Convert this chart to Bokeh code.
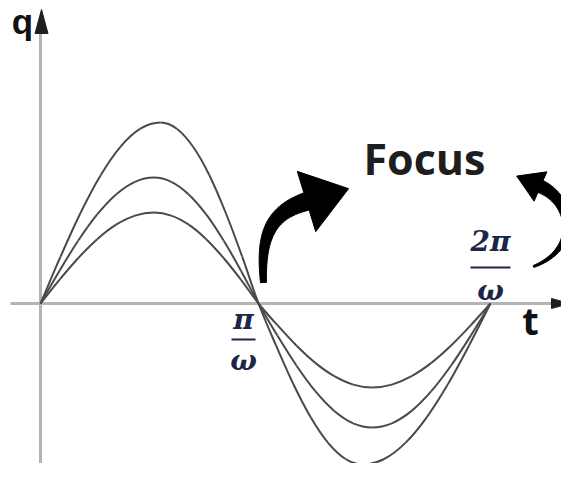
import numpy as np
from bokeh.plotting import figure
from bokeh.models import Range1d
from bokeh.core.properties import value
from bokeh.embed import file_html
from bokeh.resources import INLINE

# ---- data (t in arbitrary time units, q in arbitrary charge units) ----
T_A = [0, 20.0, 40.0, 60.0, 79.9, 99.9, 119.9, 136.3, 152.6, 169.0, 185.3, 201.7, 218,
       235.4, 252.8, 270.2, 287.6, 305.0, 322.4, 343.7, 364.9, 386.2, 407.5, 428.7, 450]
Q_A = [0, 46.8, 90.5, 128.0, 156.7, 174.8, 181, 174.8, 156.7, 128.0, 90.5, 46.8, 0,
       -41.7, -80.5, -113.8, -139.4, -155.5, -161, -155.5, -139.4, -113.8, -80.5, -41.7, 0]
T_BC = [0, 18.9, 37.8, 56.7, 75.6, 94.5, 113.4, 130.8, 148.2, 165.7, 183.1, 200.6, 218,
        236.9, 255.9, 274.8, 293.8, 312.7, 331.7, 351.4, 371.1, 390.8, 410.6, 430.3, 450]
Q_B = [0, 32.6, 63.0, 89.1, 109.1, 121.7, 126, 121.7, 109.1, 89.1, 63.0, 32.6, 0,
       -32.1, -62.0, -87.7, -107.4, -119.8, -124, -119.8, -107.4, -87.7, -62.0, -32.1, 0]
Q_C = [0, 23.6, 45.5, 64.3, 78.8, 87.9, 91, 87.9, 78.8, 64.3, 45.5, 23.6, 0,
       -21.7, -42.0, -59.4, -72.7, -81.1, -84, -81.1, -72.7, -59.4, -42.0, -21.7, 0]
TICK_T = [218, 450]
TICK_NUM = ["π", "2π"]
TICK_DEN = ["ω", "ω"]
AXIS_LABELS = ["q", "t"]
NOTE = "Focus"

# page-pixel -> data helper for decorations (origin of axes at px 40, 303)
OX, OY = 40, 303
W, H = 561, 463


def D(px, py):
    return px - OX, OY - py


p = figure(width=W, height=H,
           x_range=Range1d(0 - OX, W - OX), y_range=Range1d(OY - H, OY),
           x_axis_type=None, y_axis_type=None, toolbar_location=None,
           output_backend="svg", min_border=0, outline_line_color=None,
           background_fill_color="white", border_fill_color="white")

AXIS_COL = "#b4b4b4"
HEAD_COL = "#1e1e1e"

# axes
vx0, vy0 = D(40, 479)
vx1, vy1 = D(40, 30)
p.segment(x0=[vx0], y0=[vy0], x1=[vx1], y1=[vy1], line_color=AXIS_COL, line_width=3)
hx0, hy0 = D(10, 303)
hx1, hy1 = D(553, 303)
p.segment(x0=[hx0], y0=[hy0], x1=[hx1], y1=[hy1], line_color=AXIS_COL, line_width=3)


def head(tip, base, half_w):
    tx, ty = tip
    bx, by = base
    dx, dy = tx - bx, ty - by
    L = np.hypot(dx, dy)
    nx, ny = -dy / L, dx / L
    xs = [tx, bx + nx * half_w, bx - nx * half_w]
    ys = [ty, by + ny * half_w, by - ny * half_w]
    return xs, ys


xs, ys = head(D(41, 9), D(41, 33), 6.5)
p.patch(xs, ys, fill_color=HEAD_COL, line_color=HEAD_COL, line_width=1)
xs, ys = head(D(569, 303), D(551, 303), 5)
p.patch(xs, ys, fill_color=HEAD_COL, line_color=HEAD_COL, line_width=1)


# curves: smooth Bezier segments through the read points (Catmull-Rom controls)
def smooth_segments(T, Q):
    P = np.column_stack([T, Q]).astype(float)
    ext = np.vstack([2 * P[0] - P[1], P, 2 * P[-1] - P[-2]])
    x0, y0, x1, y1, cx0, cy0, cx1, cy1 = ([] for _ in range(8))
    for i in range(1, len(ext) - 2):
        a, b, c, d = ext[i - 1], ext[i], ext[i + 1], ext[i + 2]
        c0 = b + (c - a) / 6.0
        c1 = c - (d - b) / 6.0
        x0.append(b[0]); y0.append(b[1]); x1.append(c[0]); y1.append(c[1])
        cx0.append(c0[0]); cy0.append(c0[1]); cx1.append(c1[0]); cy1.append(c1[1])
    return dict(x0=x0, y0=y0, x1=x1, y1=y1, cx0=cx0, cy0=cy0, cx1=cx1, cy1=cy1)


CURVE_COL = "#4a4a4a"
for T, Q in ((T_A, Q_A), (T_BC, Q_B), (T_BC, Q_C)):
    p.bezier(source=smooth_segments(T, Q), x0="x0", y0="y0", x1="x1", y1="y1",
             cx0="cx0", cy0="cy0", cx1="cx1", cy1="cy1",
             line_color=CURVE_COL, line_width=2)

# axis labels
lx, ly = D(22, 21)
p.text(x=[lx], y=[ly], text=[AXIS_LABELS[0]], text_font=value("Liberation Sans"),
       text_font_style="bold", text_font_size="35px", text_color="#111111",
       text_align="center", text_baseline="alphabetic")
lx, ly = D(530, 319)
p.text(x=[lx], y=[ly], text=[AXIS_LABELS[1]], text_font=value("Open Sans"),
       text_font_style="bold", text_font_size="38px", text_color="#111111",
       text_align="center", text_baseline="alphabetic")

# fraction tick labels
FRAC_COL = "#1c2648"
num_y = [D(0, 319)[1], D(0, 241)[1]]
bar_y = [D(0, 339)[1], D(0, 267)[1]]
den_y = [D(0, 360)[1], D(0, 290)[1]]
cx = [D(243, 0)[0], D(490, 0)[0]]
half = [12, 20]
p.text(x=cx, y=num_y, text=TICK_NUM, text_font=value("DejaVu Serif"),
       text_font_style="bold italic", text_font_size="28px", text_color=FRAC_COL,
       text_align="center", text_baseline="alphabetic")
p.text(x=cx, y=den_y, text=TICK_DEN, text_font=value("DejaVu Serif"),
       text_font_style="bold italic", text_font_size="28px", text_color=FRAC_COL,
       text_align="center", text_baseline="alphabetic")
p.segment(x0=[c - h for c, h in zip(cx, half)], y0=bar_y,
          x1=[c + h for c, h in zip(cx, half)], y1=bar_y,
          line_color=FRAC_COL, line_width=2)

# "Focus" note
fx, fy = D(363, 158)
p.text(x=[fx], y=[fy], text=[NOTE], text_font=value("Open Sans"),
       text_font_style="bold", text_font_size="43px", text_color="#1e1e1e",
       text_align="left", text_baseline="alphabetic")


# curved decorative arrows
def curved_arrow(P0, P1, P2, P3, w_tail, w_head, head_len, head_w, n=60):
    P = [np.array(q, dtype=float) for q in (P0, P1, P2, P3)]
    s = np.linspace(0, 1, n)[:, None]
    B = ((1 - s) ** 3) * P[0] + 3 * ((1 - s) ** 2) * s * P[1] + 3 * (1 - s) * s ** 2 * P[2] + s ** 3 * P[3]
    dB = 3 * ((1 - s) ** 2) * (P[1] - P[0]) + 6 * (1 - s) * s * (P[2] - P[1]) + 3 * s ** 2 * (P[3] - P[2])
    T = dB / np.linalg.norm(dB, axis=1)[:, None]
    N = np.column_stack([-T[:, 1], T[:, 0]])
    w = (w_tail + (w_head - w_tail) * s[:, 0])[:, None] / 2
    left = B + N * w
    right = B - N * w
    end = B[-1]
    d = T[-1]
    nrm = N[-1]
    hl = end + nrm * head_w / 2
    tip = end + d * head_len
    hr = end - nrm * head_w / 2
    pts = np.vstack([left, hl[None], tip[None], hr[None], right[::-1]])
    xs = pts[:, 0] - OX
    ys = OY - pts[:, 1]
    return list(xs), list(ys)


xs, ys = curved_arrow((263, 282), (260, 235), (270, 212), (306, 201), 6, 18, 44, 63)
p.patch(xs, ys, fill_color="black", line_color="black", line_width=1)
xs, ys = curved_arrow((533, 266), (580, 248), (572, 200), (540, 186), 2, 13, 26, 32)
p.patch(xs, ys, fill_color="black", line_color="black", line_width=1)

open("out.html", "w").write(file_html(p, INLINE))
